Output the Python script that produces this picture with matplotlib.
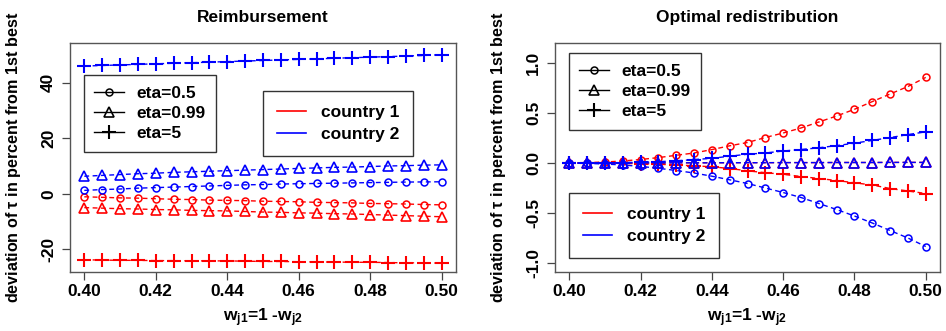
import matplotlib

matplotlib.use("Agg")
import matplotlib.pyplot as plt
from matplotlib.lines import Line2D

plt.rcParams["font.family"] = ["Liberation Sans", "DejaVu Sans"]
plt.rcParams["font.weight"] = "bold"
plt.rcParams["axes.unicode_minus"] = False
plt.rcParams["mathtext.fontset"] = "custom"
plt.rcParams["mathtext.rm"] = "Liberation Sans"
plt.rcParams["mathtext.it"] = "Liberation Sans"
plt.rcParams["mathtext.bf"] = "Liberation Sans:bold"

# --- data ----------------------------------------------------------------- #
w = [0.400, 0.405, 0.410, 0.415, 0.420, 0.425, 0.430, 0.435, 0.440, 0.445, 0.450,
     0.455, 0.460, 0.465, 0.470, 0.475, 0.480, 0.485, 0.490, 0.495, 0.500]

# Reimbursement (left)
reimb_c1_eta05 = [-1.1, -1.3, -1.5, -1.6, -1.8, -2.0, -2.1, -2.3, -2.4, -2.5, -2.7,
                  -2.8, -2.9, -3.1, -3.2, -3.3, -3.5, -3.6, -3.7, -3.9, -4.0]
reimb_c1_eta099 = [-5.0, -5.2, -5.4, -5.5, -5.7, -5.8, -6.0, -6.1, -6.2, -6.4, -6.6,
                   -6.7, -6.9, -7.0, -7.2, -7.3, -7.5, -7.7, -7.9, -8.1, -8.3]
reimb_c1_eta5 = [-23.8, -23.9, -24.0, -24.0, -24.1, -24.1, -24.2, -24.2, -24.2, -24.3, -24.4,
                 -24.4, -24.5, -24.6, -24.6, -24.7, -24.7, -24.8, -24.9, -24.9, -25.0]
reimb_c2_eta05 = [1.2, 1.5, 1.7, 2.0, 2.2, 2.4, 2.6, 2.8, 3.0, 3.2, 3.3,
                  3.5, 3.6, 3.7, 3.8, 3.9, 4.0, 4.1, 4.2, 4.25, 4.3]
reimb_c2_eta099 = [6.3, 6.6, 6.9, 7.2, 7.4, 7.7, 7.9, 8.1, 8.3, 8.5, 8.7,
                   8.9, 9.1, 9.3, 9.5, 9.6, 9.8, 10.0, 10.1, 10.3, 10.4]
reimb_c2_eta5 = [46.0, 46.2, 46.4, 46.6, 46.8, 47.0, 47.2, 47.4, 47.6, 47.8, 48.0,
                 48.2, 48.4, 48.6, 48.8, 49.0, 49.2, 49.4, 49.6, 49.8, 50.1]

# Optimal redistribution (right)
redis_c1_eta05 = [0.0, 0.004, 0.01, 0.02, 0.035, 0.054, 0.077, 0.10, 0.134, 0.172, 0.205,
                  0.255, 0.30, 0.35, 0.41, 0.47, 0.537, 0.614, 0.69, 0.765, 0.856]
redis_c1_eta099 = [0.0, 0.0, 0.0, 0.001, 0.001, 0.001, 0.002, 0.002, 0.002, 0.003, 0.003,
                   0.003, 0.004, 0.004, 0.004, 0.005, 0.005, 0.005, 0.006, 0.006, 0.006]
redis_c1_eta5 = [0.0, 0.0, -0.002, -0.004, -0.008, -0.012, -0.02, -0.028, -0.038, -0.055, -0.078,
                 -0.097, -0.113, -0.135, -0.155, -0.175, -0.198, -0.22, -0.255, -0.28, -0.305]
redis_c2_eta05 = [0.0, -0.004, -0.01, -0.02, -0.034, -0.053, -0.075, -0.10, -0.132, -0.168, -0.205,
                  -0.25, -0.295, -0.345, -0.405, -0.465, -0.53, -0.6, -0.675, -0.75, -0.835]
redis_c2_eta099 = [0.0, 0.0, 0.0, 0.001, 0.001, 0.001, 0.002, 0.002, 0.002, 0.003, 0.003,
                   0.003, 0.004, 0.004, 0.004, 0.005, 0.005, 0.005, 0.006, 0.006, 0.006]
redis_c2_eta5 = [0.0, 0.0, 0.002, 0.004, 0.008, 0.013, 0.022, 0.034, 0.047, 0.068, 0.088,
                 0.10, 0.12, 0.135, 0.152, 0.174, 0.198, 0.226, 0.254, 0.284, 0.312]

x_ticks = [0.40, 0.42, 0.44, 0.46, 0.48, 0.50]
left_yticks = [-20, 0, 20, 40]
right_yticks = [-1.0, -0.5, 0.0, 0.5, 1.0]
eta_labels = ["eta=0.5", "eta=0.99", "eta=5"]
country_labels = ["country 1", "country 2"]
country_colors = ["#ff0000", "#0000ff"]

# --- styling -------------------------------------------------------------- #
MARKERS = {"o": dict(marker="o", ms=5.0, mew=1.1),
           "^": dict(marker="^", ms=7.0, mew=1.2),
           "+": dict(marker="+", ms=9.5, mew=1.5)}
DASH = (0, (3.5, 2.5))


def draw_series(ax, y, color, mk):
    ax.plot(w, y, color=color, lw=1.0, ls=DASH, mfc="none", mec=color, **MARKERS[mk])


def style_axes(ax, title, yticks, fmt):
    ax.set_xlim(0.396, 0.504)
    ax.set_xticks(x_ticks)
    ax.set_xticklabels([f"{t:.2f}" for t in x_ticks])
    ax.set_yticks(yticks)
    ax.set_yticklabels([fmt(t) for t in yticks], rotation=90, va="center")
    ax.tick_params(direction="out", length=6, width=0.9, color="#444444",
                   labelsize=12.5, pad=3)
    ax.tick_params(axis="y", pad=4)
    for s in ax.spines.values():
        s.set_color("#555555")
        s.set_linewidth(1.0)
    ax.set_title(title, fontsize=12.5, fontweight="bold", pad=15)
    ax.set_ylabel("deviation of $\\tau$ in percent from 1st best",
                  fontsize=11.6, fontweight="bold")
    ax.set_xlabel("w$_{j1}$=1 -w$_{j2}$", fontsize=12.5, fontweight="bold")
    ax.yaxis.set_label_coords(-0.123, 0.5)
    ax.xaxis.set_label_coords(0.5, -0.15)


def add_legends(ax, eta_anchor, country_anchor):
    eta_handles = [Line2D([], [], color="black", lw=1.0, mfc="none", **MARKERS[m])
                   for m in ["o", "^", "+"]]
    leg1 = ax.legend(eta_handles, eta_labels, loc="upper left", bbox_to_anchor=eta_anchor,
                     fontsize=12.5, frameon=True, fancybox=False, edgecolor="#333333",
                     framealpha=1, borderaxespad=0, handlelength=1.7, handletextpad=0.75,
                     labelspacing=0.3, borderpad=0.6)
    leg1.get_frame().set_linewidth(1.0)
    ax.add_artist(leg1)
    c_handles = [Line2D([], [], color=c, lw=1.2) for c in country_colors]
    leg2 = ax.legend(c_handles, country_labels, loc="upper left", bbox_to_anchor=country_anchor,
                     fontsize=12.5, frameon=True, fancybox=False, edgecolor="#333333",
                     framealpha=1, borderaxespad=0, handlelength=1.7, handletextpad=0.85,
                     labelspacing=0.4, borderpad=0.8)
    leg2.get_frame().set_linewidth(1.0)


fig = plt.figure(figsize=(9.46, 3.31), dpi=100)
ax1 = fig.add_axes([70 / 946, 59 / 331, 386 / 946, 229 / 331])
ax2 = fig.add_axes([555 / 946, 59 / 331, 385 / 946, 229 / 331])

# left panel
draw_series(ax1, reimb_c1_eta05, country_colors[0], "o")
draw_series(ax1, reimb_c1_eta099, country_colors[0], "^")
draw_series(ax1, reimb_c1_eta5, country_colors[0], "+")
draw_series(ax1, reimb_c2_eta05, country_colors[1], "o")
draw_series(ax1, reimb_c2_eta099, country_colors[1], "^")
draw_series(ax1, reimb_c2_eta5, country_colors[1], "+")
ax1.set_ylim(-28.2, 54.3)
style_axes(ax1, "Reimbursement", left_yticks, lambda t: f"{t:d}")
add_legends(ax1, (0.036, 0.86), (0.5, 0.79))

# right panel
draw_series(ax2, redis_c1_eta05, country_colors[0], "o")
draw_series(ax2, redis_c1_eta099, country_colors[0], "^")
draw_series(ax2, redis_c1_eta5, country_colors[0], "+")
draw_series(ax2, redis_c2_eta05, country_colors[1], "o")
draw_series(ax2, redis_c2_eta099, country_colors[1], "^")
draw_series(ax2, redis_c2_eta5, country_colors[1], "+")
ax2.set_ylim(-1.09, 1.20)
style_axes(ax2, "Optimal redistribution", right_yticks, lambda t: f"{t:.1f}")
add_legends(ax2, (0.036, 0.956), (0.036, 0.345))

fig.savefig("out.png", dpi=100)
